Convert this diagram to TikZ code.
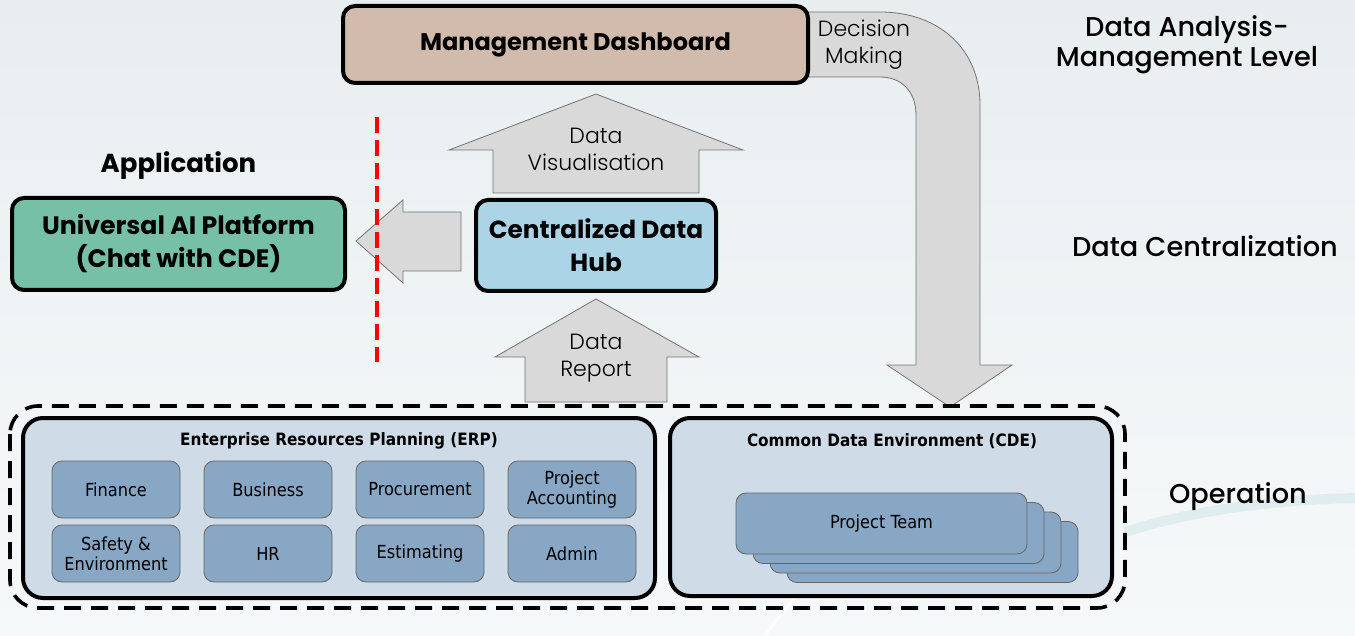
\documentclass[tikz,border=0pt]{standalone}
\usepackage{fontspec}
\setmainfont{Poppins}
\newfontfamily\lightfont{Poppins Light}
\newfontfamily\mediumfont{Poppins Medium}
\newfontfamily\condfont{DejaVu Sans Condensed}
\usetikzlibrary{positioning}

\definecolor{dashtan}{HTML}{D0BBAD}
\definecolor{hubblue}{HTML}{ABD5E7}
\definecolor{aigreen}{HTML}{76C0A8}
\definecolor{panelblue}{HTML}{CFDBE6}
\definecolor{modblue}{HTML}{87A7C4}
\definecolor{arrowgray}{HTML}{D9D9D9}
\definecolor{bgtop}{HTML}{E8EEF0}
\definecolor{bgbot}{HTML}{F6F9FA}

\tikzset{
    levelbox/.style={draw=black,line width=2pt,rounded corners=6pt,align=center,inner sep=0pt,
        font=\bfseries\fontsize{12.4}{16.5}\selectfont},
    panel/.style={draw=black,line width=2pt,rounded corners=10pt,fill=panelblue},
    module/.style={draw=black!60,line width=0.4pt,rounded corners=5pt,fill=modblue,
        minimum width=64pt,minimum height=28.5pt,align=center,inner sep=0pt,
        font=\condfont\fontsize{9}{10}\selectfont},
    card/.style={module,minimum width=145.5pt,minimum height=30.5pt},
    blockarrow/.style={fill=arrowgray,draw=black!55,line width=0.4pt},
    flowlabel/.style={align=center,font=\lightfont\fontsize{11}{13.5}\selectfont},
    levellabel/.style={align=center,font=\mediumfont\fontsize{13.6}{15}\selectfont},
}

\begin{document}
\begin{tikzpicture}[x=0.5pt,y=-0.5pt]
    \shade[top color=bgtop,bottom color=bgbot] (0,0) rectangle (1355,636);
    \useasboundingbox (0,0) rectangle (1355,636);
    \draw[teal!20,line width=5pt,opacity=0.5] (1125,532) .. controls (1200,508) and (1280,500) .. (1355,498);
    \draw[white,line width=1.5pt,opacity=0.8] (765,636) .. controls (790,600) and (820,570) .. (850,545);

    % decision making arrow
    \path[blockarrow] (790,12) -- (880,12) .. controls (940,12) and (980,50) .. (980,105)
        -- (980,365) -- (1012,365) -- (950,407) -- (887,365) -- (916,365) -- (916,115)
        .. controls (916,92) and (902,77) .. (880,77) -- (790,77) -- cycle;
    % up and left arrows
    \path[blockarrow] (493,193) -- (493,150) -- (449,150) -- (596,94) -- (743,150) -- (699,150) -- (699,193) -- cycle;
    \path[blockarrow] (525,402) -- (525,357) -- (495,357) -- (596,299) -- (699,357) -- (667,357) -- (667,402) -- cycle;
    \path[blockarrow] (461,212) -- (403,212) -- (403,200) -- (356,241) -- (403,283) -- (403,271) -- (461,271) -- cycle;

    \node[levelbox,fill=dashtan,minimum width=232.5pt,minimum height=38.5pt,font=\bfseries\fontsize{12}{14}\selectfont] (dash) at (575.5,44.5) {Management Dashboard};
    \node[levelbox,fill=hubblue,minimum width=120pt,minimum height=45.5pt] (hub) at (596,245.5) {Centralized Data\\Hub};
    \node[levelbox,fill=aigreen,minimum width=166.5pt,minimum height=46pt,font=\bfseries\fontsize{12.6}{16.5}\selectfont] (ai) at (178.5,244) {Universal AI Platform\\(Chat with CDE)};
    \node[font=\bfseries\fontsize{13}{15}\selectfont] (app) at (178.5,166) {Application};

    \node[flowlabel] (decide) at (864,45) {Decision\\Making};
    \node[flowlabel] (vis) at (596,149) {Data\\Visualisation};
    \node[flowlabel] (report) at (596,358) {Data\\Report};

    \coordinate (cut top) at (377,117);
    \coordinate (cut bottom) at (377,362);
    \draw[red,line width=2pt,dash pattern=on 8pt off 3.5pt] (cut top) -- (cut bottom);

    \node[levellabel] (mgmt) at (1187,45) {Data Analysis-\\Management Level};
    \node[levellabel] (central) at (1205,246) {Data Centralization};
    \node[levellabel] (oper) at (1238,497) {Operation};

    % operation level
    \draw[line width=1.8pt,rounded corners=14pt,dash pattern=on 8.5pt off 5pt] (10,406) rectangle (1125,608);
    \node[panel,minimum width=316pt,minimum height=90pt] (erp) at (339,508) {};
    \node[panel,minimum width=221pt,minimum height=89pt] (cde) at (891,507) {};
    \node[font=\condfont\bfseries\fontsize{8.5}{10}\selectfont] (erp title) at (339,441) {Enterprise Resources Planning (ERP)};
    \node[font=\condfont\bfseries\fontsize{8.5}{10}\selectfont] (cde title) at (892,441) {Common Data Environment (CDE)};

    \node[module] (finance) at (116,489.5) {Finance};
    \node[module] (business) at (268,489.5) {Business};
    \node[module] (procure) at (420,489.5) {Procurement};
    \node[module] (accounting) at (572,489.5) {Project\\Accounting};
    \node[module] (safety) at (116,553.5) {Safety \&\\Environment};
    \node[module] (hr) at (268,553.5) {HR};
    \node[module] (estimate) at (420,553.5) {Estimating};
    \node[module] (admin) at (572,553.5) {Admin};

    \foreach \i in {3,2,1}
        \node[card] (team\i) at (881.5+17*\i,523.5+9.5*\i) {};
    \node[card] (team) at (881.5,523.5) {Project Team};
\end{tikzpicture}
\end{document}
